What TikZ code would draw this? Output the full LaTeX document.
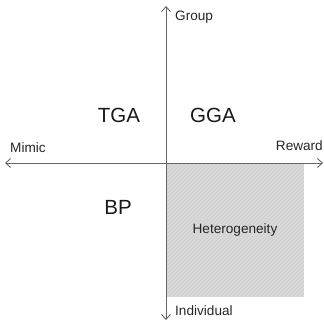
\documentclass[tikz,border=0pt]{standalone}
\usepackage{fontspec}
\setmainfont{Liberation Sans}
\usetikzlibrary{arrows.meta}
\definecolor{axisgray}{HTML}{666666}
\definecolor{quadfill}{HTML}{D2D2D2}
\definecolor{hatchgray}{HTML}{E0E0E0}
\tikzset{
  axis/.style={draw=axisgray, line width=0.9pt, -{Straight Barb[length=5pt,width=9pt]}},
  biglabel/.style={font=\fontsize{20.5}{24}\selectfont, text=black!90, inner sep=0pt},
  smalllabel/.style={font=\fontsize{13.6}{16}\selectfont, text=black!85, inner sep=0pt},
  hatchline/.style={draw=hatchgray, line width=0.7pt},
}
\begin{document}
\begin{tikzpicture}[x=1pt,y=-1pt]
\useasboundingbox (0,0) rectangle (324,324);
% shaded quadrant
\fill[quadfill] (166,163) rectangle (304,297);
\begin{scope}
  \clip (166,163) rectangle (304,297);
  \foreach \k in {0,4,...,280} {
    \draw[hatchline] (166+\k-140,297) -- (166+\k,157);
  }
\end{scope}
% axes
\coordinate (o) at (166,163);
\coordinate (top) at (166,6);
\coordinate (bot) at (166,320);
\coordinate (lft) at (5,163);
\coordinate (rgt) at (323,163);
\draw[axis] (o) -- (top);
\draw[axis] (o) -- (bot);
\draw[axis] (o) -- (lft);
\draw[axis] (o) -- (rgt);
% labels
\node[smalllabel, anchor=west] (group) at (175,17) {Group};
\node[smalllabel, anchor=west] (indiv) at (175,311) {Individual};
\node[smalllabel, anchor=west] (mimic) at (10,148) {Mimic};
\node[smalllabel, anchor=east] (reward) at (323,146) {Reward};
\node[biglabel] (tga) at (119,115) {TGA};
\node[biglabel] (gga) at (213,115) {GGA};
\node[biglabel] (bp) at (118,207) {BP};
\node[smalllabel] (het) at (235,230) {Heterogeneity};
\end{tikzpicture}
\end{document}
